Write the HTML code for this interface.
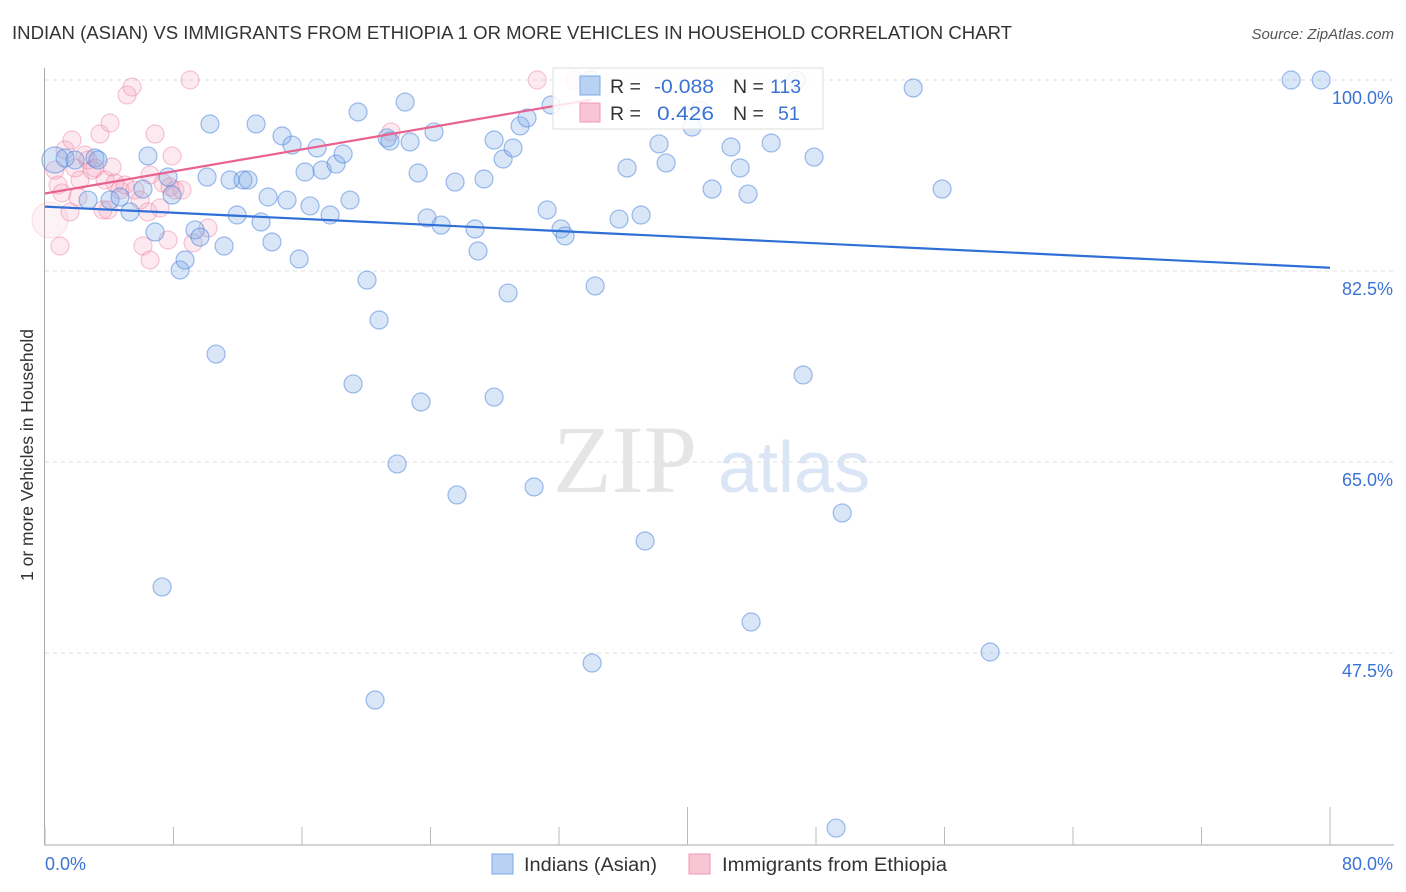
<!DOCTYPE html>
<html><head><meta charset="utf-8"><style>
body{margin:0;background:#fff;font-family:"Liberation Sans",sans-serif;}
svg{display:block}
</style></head><body>
<svg id="chart" width="1406" height="892" xmlns="http://www.w3.org/2000/svg">
<text x="12" y="39" font-size="18" fill="#333" textLength="1000" lengthAdjust="spacingAndGlyphs">INDIAN (ASIAN) VS IMMIGRANTS FROM ETHIOPIA 1 OR MORE VEHICLES IN HOUSEHOLD CORRELATION CHART</text>
<text x="1394" y="39" font-size="15" fill="#555" font-style="italic" text-anchor="end">Source: ZipAtlas.com</text>
<g opacity="0.5">
<text x="553" y="492" font-size="96" font-family="Liberation Serif,serif" fill="#ccc">ZIP</text>
<text x="718" y="492" font-size="72" fill="#b7cdec">atlas</text>
</g>
<g id="grid"></g>
<g id="axes"></g>
<g id="pinkPts"></g>
<g id="bluePts"></g>
<g id="trends"></g>
<text transform="translate(33,455) rotate(-90)" font-size="17.5" fill="#333" text-anchor="middle">1 or more Vehicles in Household</text>
<g>
<rect x="553" y="68" width="270" height="61" fill="#fff" fill-opacity="0.85" stroke="#ddd"/>
<rect x="580" y="76" width="20" height="19" fill="#b9d1f3" stroke="#7fa8e6"/>
<rect x="580" y="103" width="20" height="19" fill="#f9c4d3" stroke="#f09ab5"/>
<text x="610" y="93" font-size="19.5" fill="#333">R = <tspan x="654" fill="#3b73d4" textLength="60" lengthAdjust="spacingAndGlyphs">-0.088</tspan><tspan x="733">N = </tspan><tspan x="770" fill="#3b73d4">113</tspan></text>
<text x="610" y="120" font-size="19.5" fill="#333">R = <tspan x="657" fill="#3b73d4" textLength="57" lengthAdjust="spacingAndGlyphs">0.426</tspan><tspan x="733">N = </tspan><tspan x="778" fill="#3b73d4">51</tspan></text>
</g>
<g>
<rect x="492" y="854" width="21" height="20" fill="#b9d1f3" stroke="#7fa8e6"/>
<text x="524" y="871" font-size="19" fill="#333" textLength="133" lengthAdjust="spacingAndGlyphs">Indians (Asian)</text>
<rect x="689" y="854" width="21" height="20" fill="#f9c4d3" stroke="#f09ab5"/>
<text x="722" y="871" font-size="19" fill="#333" textLength="225" lengthAdjust="spacingAndGlyphs">Immigrants from Ethiopia</text>
</g>
</svg>
<script>
const blueX=[0.62,1.25,1.87,3.11,2.68,3.30,4.05,4.67,5.29,6.10,6.41,6.85,7.66,7.91,8.41,8.72,9.34,9.65,10.09,10.27,10.65,11.15,11.52,11.96,12.33,12.64,13.14,13.45,13.89,14.13,14.76,15.07,15.38,15.82,16.19,16.50,16.94,17.25,17.75,18.12,18.56,18.99,19.18,19.49,20.05,20.80,21.30,21.48,21.92,22.42,22.73,23.23,23.41,23.79,24.22,24.66,25.53,25.65,26.77,26.96,27.33,27.96,27.96,28.52,28.83,29.14,29.58,30.01,30.45,31.26,31.51,32.13,32.38,34.06,34.25,35.74,36.24,37.11,37.36,38.23,38.67,40.29,41.53,42.71,43.28,43.77,43.96,45.21,46.76,47.20,47.88,49.25,49.63,54.05,55.85,58.84,77.58,79.45,20.55,7.29,33.94,40.78];
const blueY=[92.67,92.85,92.67,92.85,89.0,92.67,89.0,89.28,87.91,90.01,93.04,86.07,91.11,89.46,82.59,83.51,86.26,85.61,91.11,95.97,74.89,84.79,90.84,87.63,90.84,90.84,95.97,86.99,89.28,85.16,94.87,89.0,94.04,83.60,91.57,88.46,93.77,91.75,87.63,92.30,93.22,89.0,72.15,97.07,81.67,78.01,94.69,94.41,64.82,97.98,94.32,91.48,70.50,87.36,95.24,86.71,90.65,61.98,86.35,84.33,90.93,94.50,70.95,92.76,80.48,93.77,95.79,96.52,62.71,88.09,97.71,86.35,85.71,46.58,81.13,87.26,91.94,87.63,57.76,94.14,92.40,95.69,90.01,93.86,91.94,89.55,50.34,94.23,100,72.97,92.94,31.46,60.33,99.27,90.01,47.59,100,100,43.19,53.55,100,97.25];
const pinkX=[0.31,0.62,0.81,0.93,1.25,1.56,1.68,1.87,2.18,2.49,2.68,2.93,3.42,3.74,3.92,4.05,4.17,4.67,4.98,5.11,5.42,5.60,5.92,6.10,6.41,6.54,6.85,7.16,7.35,7.66,7.78,7.91,8.09,8.53,9.03,9.22,10.15,21.54,30.64,33.00,1.06,2.05,3.11,4.36,6.54,3.61];
const pinkY=[87.17,91.75,90.38,84.79,93.59,87.91,94.50,91.94,90.84,93.13,92.67,91.75,95.05,90.84,88.09,96.06,92.03,89.92,90.38,98.63,99.36,89.92,89.0,84.79,87.91,83.51,95.05,88.27,90.56,85.34,90.20,93.04,89.92,89.92,100,85.07,86.44,95.24,100,100,89.65,89.28,91.94,90.56,91.30,88.09];
const blueTrendX=[0,80], blueTrendY=[88.4,82.8];
const pinkTrendX=[0,34], pinkTrendY=[89.6,98.2];
const yTicks=[100,82.5,65,47.5];
const yTickLabels=["100.0%","82.5%","65.0%","47.5%"];
const xEnds=[0,80];
const xEndLabels=["0.0%","80.0%"];
const NS="http://www.w3.org/2000/svg";
const X=v=>45+v*(1285/80);
const Y=v=>80+(100-v)*10.914;
function mk(t,a,p){const e=document.createElementNS(NS,t);for(const k in a)e.setAttribute(k,a[k]);p.appendChild(e);return e;}
const grid=document.getElementById('grid'),axes=document.getElementById('axes');
yTicks.forEach((v,i)=>{
 const l=mk('line',{x1:45,x2:1394,y1:Y(v),y2:Y(v),stroke:'#ddd','stroke-dasharray':'4 4'},grid);
 
 
 const t=mk('text',{x:1393,y:Y(v)+24,'font-size':18,fill:'#3b73d4','text-anchor':'end'},axes);
 t.textContent=yTickLabels[i];
 
 
});
let al=mk('line',{x1:44.5,x2:44.5,y1:68,y2:845,stroke:'#aaa'},axes);


al=mk('line',{x1:44,x2:1394,y1:845,y2:845,stroke:'#aaa'},axes);


for(let v=0;v<=80;v+=8){
 const major=(v===40||v===80);
 const tk=mk('line',{x1:X(v),x2:X(v),y1:major?807:827,y2:845,stroke:'#bbb'},axes);
 
 
}
xEnds.forEach((v,i)=>{
 const t=mk('text',{x:i?1393:45,y:870,'font-size':18,fill:'#3b73d4','text-anchor':i?'end':'start'},axes);
 t.textContent=xEndLabels[i];
 
 
});
const pg=document.getElementById('pinkPts');
pinkX.forEach((x,i)=>{
 const c=mk('circle',{cx:X(x),cy:Y(pinkY[i]),r:i===0?18:9,fill:i===0?'rgba(244,160,185,0.14)':'rgba(244,160,185,0.22)',stroke:i===0?'rgba(236,130,160,0.2)':'rgba(236,130,160,0.45)','stroke-width':1.2},pg);
 
 
});
const bg=document.getElementById('bluePts');
blueX.forEach((x,i)=>{
 const c=mk('circle',{cx:X(x),cy:Y(blueY[i]),r:i===0?13:9,fill:'rgba(130,172,232,0.3)',stroke:'rgba(80,135,220,0.55)','stroke-width':1.2},bg);
 
 
});
const tg=document.getElementById('trends');
let tl=mk('line',{x1:X(blueTrendX[0]),y1:Y(blueTrendY[0]),x2:X(blueTrendX[1]),y2:Y(blueTrendY[1]),stroke:'#2f6fd6','stroke-width':2.2},tg);


tl=mk('line',{x1:X(pinkTrendX[0]),y1:Y(pinkTrendY[0]),x2:X(pinkTrendX[1]),y2:Y(pinkTrendY[1]),stroke:'#e8628f','stroke-width':2.2},tg);


</script>
</body></html>
